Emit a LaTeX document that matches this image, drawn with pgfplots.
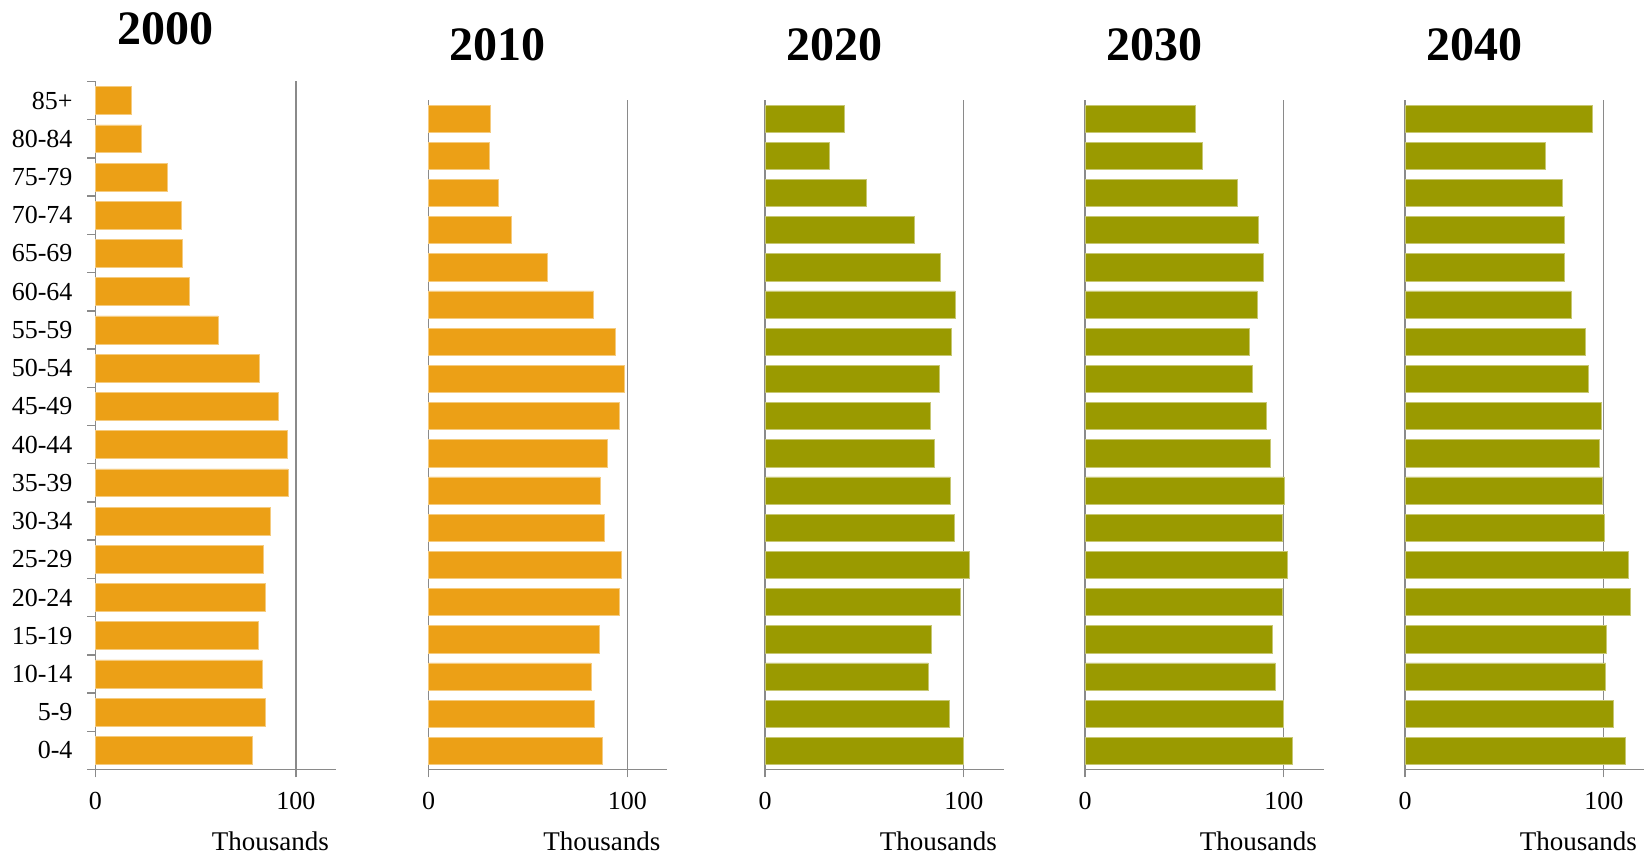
\documentclass[border=0pt]{standalone}
\usepackage{fontspec}
\setmainfont{Liberation Serif}
\usepackage{pgfplots}
\usepackage{pgfplotstable}
\pgfplotsset{compat=1.18}

\definecolor{barorange}{RGB}{236,160,22}
\definecolor{barolive}{RGB}{154,154,0}
\definecolor{axisgray}{RGB}{138,138,138}

% Population by age group (thousands); idx 0 = 0-4 ... 17 = 85+
\pgfplotstableread{
idx y2000 y2010 y2020 y2030 y2040
0   78.0  87.4  99.7  104.5 111.0
1   84.5  83.3  92.9  100.0 104.6
2   83.3  81.8  82.2  95.8  101.0
3   81.2  85.7  83.7  94.1  101.2
4   84.7  96.0  98.1  99.3  113.2
5   83.8  97.0  102.9 101.7 112.3
6   87.3  88.4  95.3  99.3  100.5
7   96.0  86.3  93.1  100.3 99.5
8   95.8  89.9  85.4  93.3  97.6
9   91.0  95.8  83.3  91.1  98.7
10  81.7  98.3  87.7  84.2  92.4
11  61.2  93.8  93.6  82.7  90.6
12  47.0  83.1  95.8  86.5  83.6
13  43.2  59.7  88.4  89.6  80.1
14  42.7  41.8  74.9  87.4  80.3
15  35.8  35.2  51.2  76.6  78.9
16  23.0  30.7  32.3  59.1  70.7
17  18.0  30.9  40.1  55.6  94.3
}\popdata

\pgfplotsset{
  pyramid/.style={
    scale only axis,
    anchor=south west,
    width=119.25pt,
    height=334.75pt,
    xmin=0, xmax=120,
    ymin=-0.5, ymax=17.5,
    enlargelimits=false,
    axis x line*=bottom,
    axis y line*=left,
    axis line style={draw=axisgray, line width=0.7pt, -},
    xtick={0,100},
    xmajorgrids,
    grid style={draw=axisgray, line width=0.7pt},
    tick align=outside,
    major tick length=4pt,
    minor tick length=4pt,
    xtick style={draw=axisgray, line width=0.7pt},
    ytick=\empty,
    /pgf/number format/assume math mode=true,
    tick label style={font=\fontsize{13}{15}\selectfont, text=black},
    xticklabel style={yshift=-4pt},
    xlabel={Thousands},
    xlabel style={at={(axis description cs:0.727,0)}, anchor=center,
      yshift=-35.75pt, font=\fontsize{13.5}{16}\selectfont},
    title style={at={(axis description cs:0.29,1)}, anchor=center,
      yshift=21.8pt, font=\fontsize{24}{28}\selectfont\bfseries},
    clip=false,
  },
  orangebar/.style={xbar, bar width=0.73, fill=barorange, draw=barorange!55!white, line width=0.3pt},
  olivebar/.style={xbar, bar width=0.73, fill=barolive, draw=barolive!55!white, line width=0.3pt},
}

\begin{document}
\begin{tikzpicture}
\path[use as bounding box] (0,0) rectangle (823pt,427.5pt);

% 2000
\begin{axis}[pyramid, at={(47.75pt,42.75pt)}, width=120.25pt, height=344pt,
  title={2000}, title style={yshift=-1.25pt},
  ytick={0,...,17},
  yticklabels={0-4,5-9,10-14,15-19,20-24,25-29,30-34,35-39,40-44,45-49,50-54,55-59,60-64,65-69,70-74,75-79,80-84,85+},
  ytick style={draw=none},
  minor ytick={-0.5,0.5,...,17.5},
  minor y tick style={draw=axisgray, line width=0.7pt},
  yticklabel style={xshift=-4pt}]
\addplot[orangebar] table[x=y2000, y=idx] {\popdata};
\end{axis}

% 2010
\begin{axis}[pyramid, at={(214.25pt,42.75pt)}, title={2010}]
\addplot[orangebar] table[x=y2010, y=idx] {\popdata};
\end{axis}

% 2020
\begin{axis}[pyramid, at={(382.5pt,42.75pt)}, title={2020}]
\addplot[olivebar] table[x=y2020, y=idx] {\popdata};
\end{axis}

% 2030
\begin{axis}[pyramid, at={(542.5pt,42.75pt)}, title={2030}]
\addplot[olivebar] table[x=y2030, y=idx] {\popdata};
\end{axis}

% 2040
\begin{axis}[pyramid, at={(702.5pt,42.75pt)}, title={2040}]
\addplot[olivebar] table[x=y2040, y=idx] {\popdata};
\end{axis}
\end{tikzpicture}
\end{document}
